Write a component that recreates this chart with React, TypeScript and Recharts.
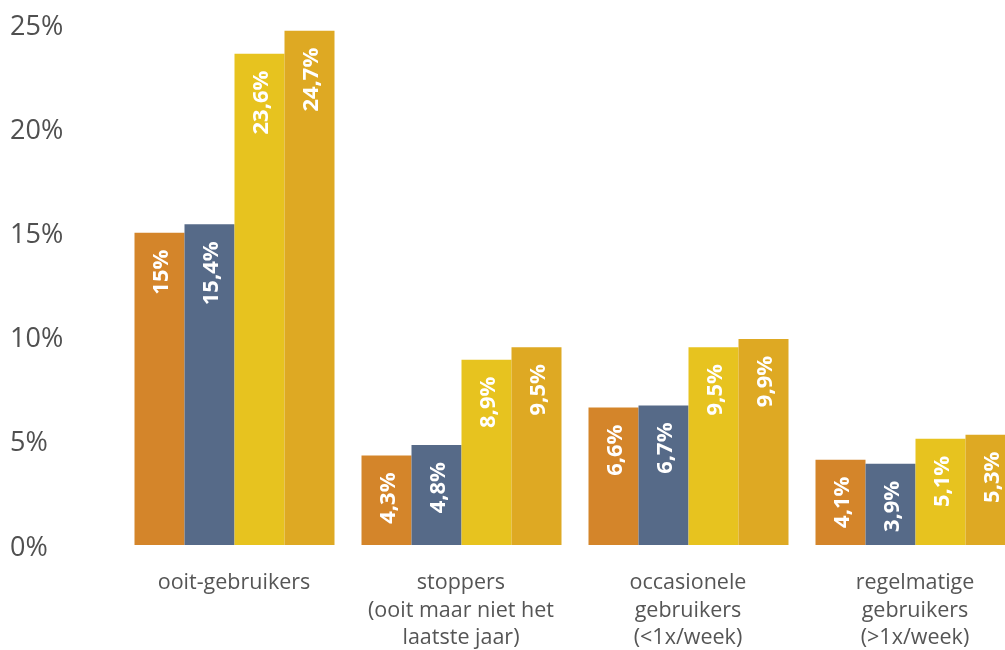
import { BarChart, Bar, XAxis, YAxis, LabelList } from "recharts";

const categories = [
  "ooit-gebruikers",
  "stoppers\n(ooit maar niet het\nlaatste jaar)",
  "occasionele\ngebruikers\n(<1x/week)",
  "regelmatige\ngebruikers\n(>1x/week)",
];

const seriesA = [15, 4.3, 6.6, 4.1];
const seriesB = [15.4, 4.8, 6.7, 3.9];
const seriesC = [23.6, 8.9, 9.5, 5.1];
const seriesD = [24.7, 9.5, 9.9, 5.3];

const yTicks = [0, 5, 10, 15, 20, 25];

const data = categories.map((name, i) => ({
  name,
  a: seriesA[i],
  b: seriesB[i],
  c: seriesC[i],
  d: seriesD[i],
}));

const series = [
  { key: "a", color: "#D4852A" },
  { key: "b", color: "#566A88" },
  { key: "c", color: "#E7C31F" },
  { key: "d", color: "#DEA923" },
];

const FONT = "'Open Sans', 'Noto Sans', sans-serif";

const fmt = (v: number) => `${String(v).replace(".", ",")}%`;

const YTick = ({ y, payload }: any) => (
  <text x={10} y={y} textAnchor="start" dominantBaseline="central" fontSize={27} fill="#505050" fontFamily={FONT}>
    {payload.value}%
  </text>
);

const XTick = ({ x, y, payload }: any) => {
  const lines = String(payload.value).split("\n");
  return (
    <text x={x} y={y} textAnchor="middle" fontSize={21.5} fill="#555555" fontFamily={FONT}>
      {lines.map((line, i) => (
        <tspan key={i} x={x} dy={i === 0 ? 36 : 27.5}>
          {line}
        </tspan>
      ))}
    </text>
  );
};

const renderLabel = (props: any) => {
  const { x, y, width, value } = props;
  const cx = x + width / 2;
  const ty = y + 17;
  return (
    <text
      x={cx}
      y={ty}
      transform={`rotate(-90, ${cx}, ${ty})`}
      textAnchor="end"
      dominantBaseline="central"
      fontSize={22}
      fontWeight={700}
      fill="#ffffff"
      fontFamily={FONT}
    >
      {fmt(value)}
    </text>
  );
};

export default function App() {
  return (
    <div style={{ position: "fixed", left: 0, top: 0, width: 1005, height: 650, overflow: "hidden" }}>
      <BarChart
        width={1029}
        height={650}
        data={data}
        margin={{ top: 24.5, right: 0.5, bottom: 5, left: 0 }}
        barGap={0}
        barSize={50}
      >
        <XAxis dataKey="name" axisLine={false} tickLine={false} interval={0} height={100} tick={<XTick />} />
        <YAxis
          width={120.5}
          domain={[0, 25]}
          ticks={yTicks}
          axisLine={false}
          tickLine={false}
          tick={<YTick />}
        />
        {series.map((s) => (
          <Bar key={s.key} dataKey={s.key} fill={s.color} isAnimationActive={false}>
            <LabelList dataKey={s.key} content={renderLabel} />
          </Bar>
        ))}
      </BarChart>
    </div>
  );
}
